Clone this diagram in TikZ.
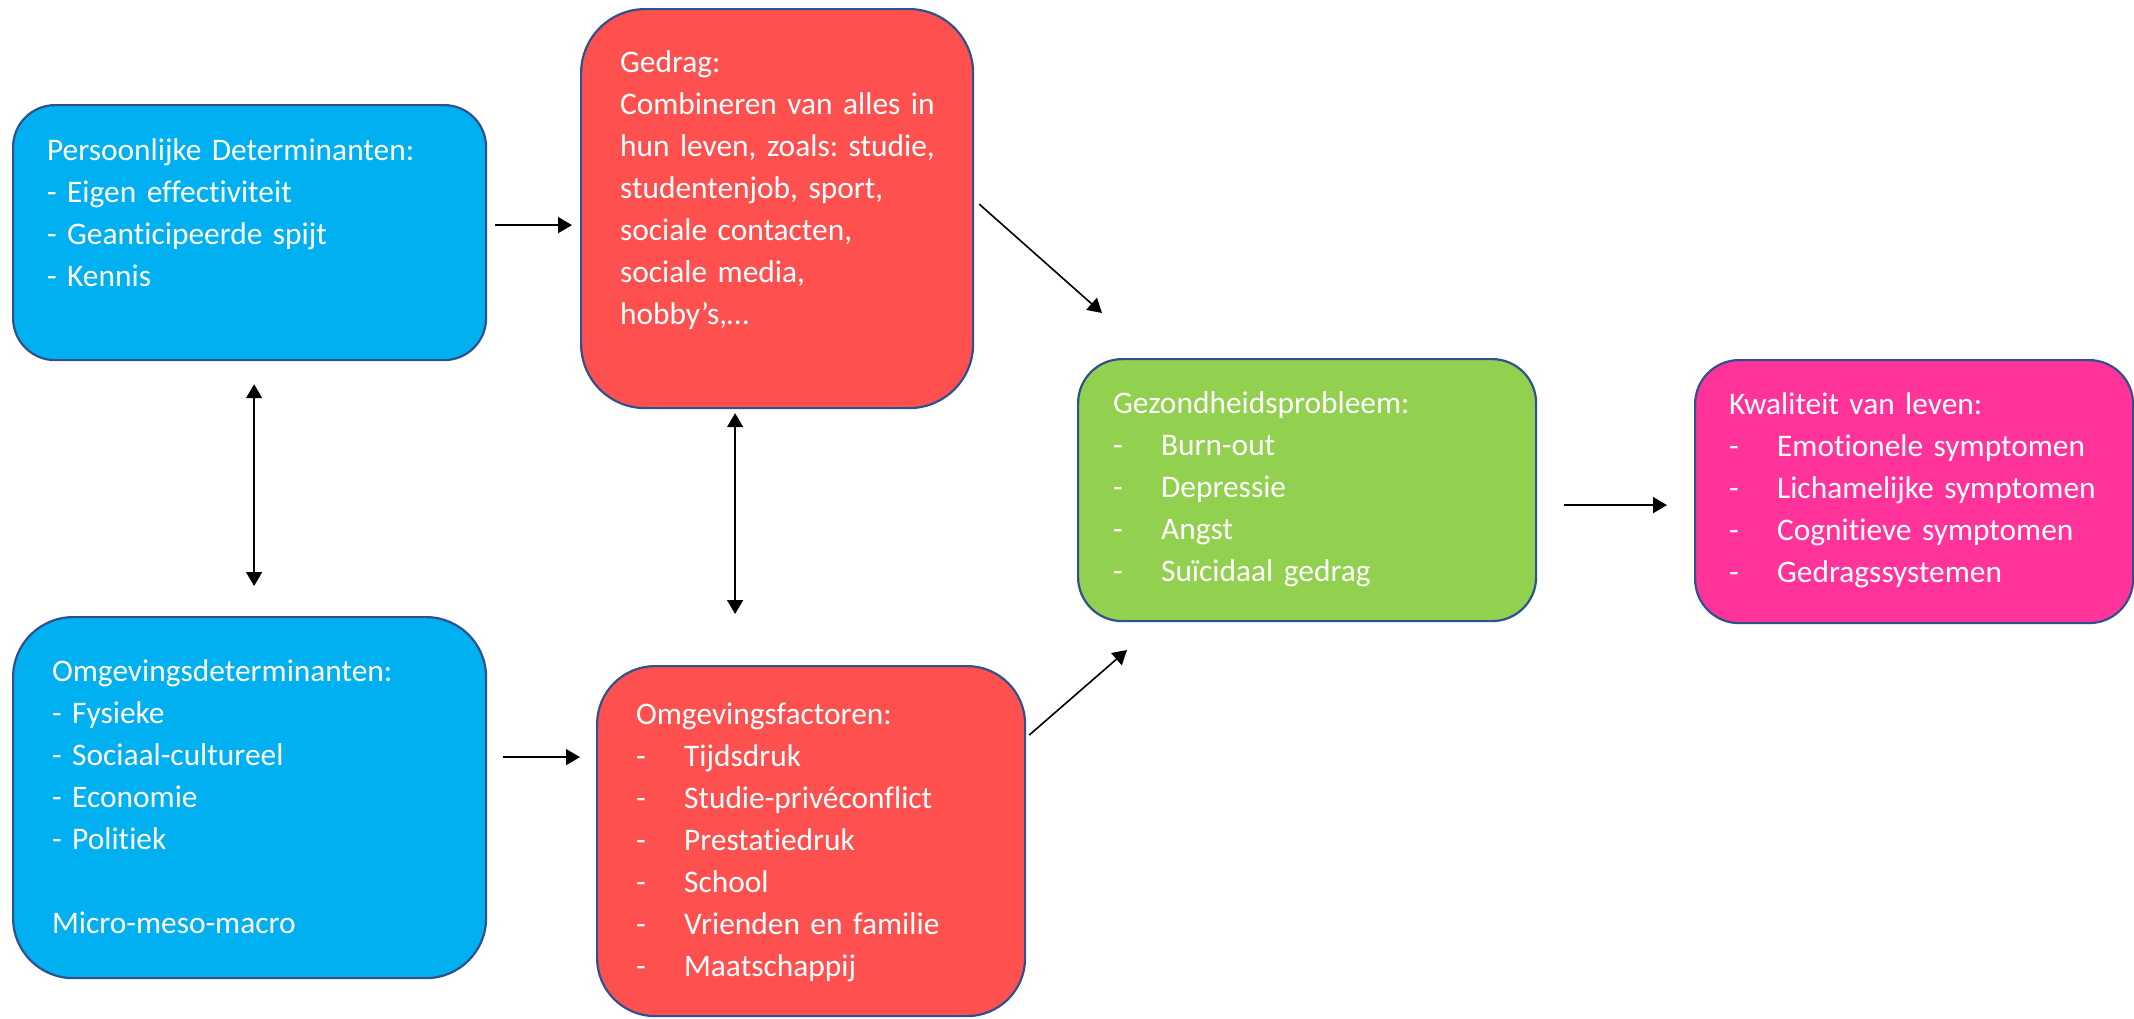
\documentclass[tikz,border=0pt]{standalone}
\usepackage{fontspec}
\setmainfont{Carlito}[Ligatures=CommonOff]
\frenchspacing
\usetikzlibrary{arrows.meta}
\definecolor{blauw}{HTML}{00B0F0}
\definecolor{rood}{HTML}{FF5050}
\definecolor{groen}{HTML}{92D050}
\definecolor{roze}{HTML}{FF3399}
\definecolor{rand}{HTML}{2F528F}
\newcommand{\streep}{\makebox[24pt][l]{-}}
\tikzset{
	blok/.style={rectangle, draw=rand, line width=1.1pt, text=white, align=left, anchor=north west, inner ysep=0pt, text height=27.5pt, font=\fontsize{15.7}{21}\selectfont},
	pijl/.style={-{Triangle[length=7pt,width=8pt]}, line width=0.8pt},
	dubbel/.style={{Triangle[length=7pt,width=8pt]}-{Triangle[length=7pt,width=8pt]}, line width=0.8pt}
}
\begin{document}
\begin{tikzpicture}[x=0.5pt, y=-0.5pt]
	       		\useasboundingbox (0,0) rectangle (2134,1018);
	       		\draw node[blok, fill=blauw, rounded corners=21pt, inner xsep=17pt, text width=202.5pt, text depth=100pt] 
	       		(pd) at (12,104) {Persoonlijke Determinanten:\\- Eigen effectiviteit\\- Geanticipeerde spijt\\- Kennis};
	       		\draw node[blok, fill=blauw, rounded corners=30pt, inner xsep=19.5pt, text width=197.5pt, text height=32pt, text depth=148.5pt] 
	       		(od) at (12,616) {Omgevingsdeterminanten:\\- Fysieke\\- Sociaal-cultureel\\- Economie\\- Politiek\\[21pt]Micro-meso-macro};
	       		\draw node[blok, fill=rood, rounded corners=32pt, inner xsep=19.5pt, text width=157pt, text height=31.5pt, text depth=168pt] 
	       		(ge) at (580,8) {Gedrag:\\\mbox{Combineren van alles in}\\\mbox{hun leven, zoals: studie,}\\studentenjob, sport,\\sociale contacten,\\sociale media,\\hobby’s,…};
	       		\draw node[blok, fill=rood, rounded corners=29pt, inner xsep=19.5pt, text width=175pt, text height=29pt, text depth=146pt] 
	       		(of) at (596,665) {Omgevingsfactoren:\\\streep Tijdsdruk\\\streep Studie-privéconflict\\\streep Prestatiedruk\\\streep School\\\streep Vrienden en familie\\\streep Maatschappij};
	       		\draw node[blok, fill=groen, rounded corners=22pt, inner xsep=17.5pt, text width=194pt, text height=27pt, text depth=104pt] 
	       		(gz) at (1077,358) {Gezondheidsprobleem:\\\streep Burn-out\\\streep Depressie\\\streep Angst\\\streep Suïcidaal gedrag};
	       		\draw node[blok, fill=roze, rounded corners=22pt, inner xsep=17pt, text width=185pt, text height=27pt, text depth=104.5pt] 
	       		(kw) at (1694,359) {Kwaliteit van leven:\\\streep \mbox{Emotionele symptomen}\\\streep \mbox{Lichamelijke symptomen}\\\streep Cognitieve symptomen\\\streep Gedragssystemen};
	       		\coordinate (gzin) at (1102,313);
	       		\coordinate (gzuit) at (1127,650);
	       		\draw[pijl, shorten <=4pt, shorten >=4pt] ([yshift=3.75pt]pd.east) -- ([yshift=3.75pt]pd.east -| ge.west);
	       		\draw[pijl, shorten <=8pt, shorten >=8pt] ([yshift=20.25pt]od.east) -- ([yshift=20.25pt]od.east -| of.west);
	       		\draw[dubbel, shorten <=11.5pt, shorten >=15pt] ([xshift=2.25pt]pd.south) -- ([xshift=2.25pt]pd.south |- od.north);
	       		\draw[dubbel, shorten <=2pt, shorten >=25.5pt] ([xshift=-21pt]ge.south) -- ([xshift=-21pt]ge.south |- of.north);
	       		\draw[pijl] ([xshift=2.5pt, yshift=2.25pt]ge.east) -- (gzin);
	       		\draw[pijl] ([xshift=1.5pt, yshift=53pt]of.east) -- (gzuit);
	       		\draw[pijl, shorten <=13.5pt, shorten >=13.5pt] ([yshift=-7.5pt]gz.east) -- ([yshift=-7.5pt]gz.east -| kw.west);
\end{tikzpicture}
\end{document}
